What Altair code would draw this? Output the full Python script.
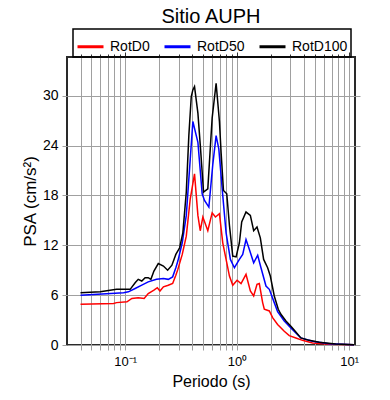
import altair as alt
import pandas as pd

# RotD0 (red)
t_d0 = [0.040, 0.079, 0.084, 0.104, 0.115, 0.131, 0.148, 0.161, 0.181, 0.194, 0.205, 0.220,
        0.243, 0.266, 0.284, 0.296, 0.324, 0.352, 0.382, 0.417, 0.447, 0.469, 0.495, 0.548,
        0.599, 0.641, 0.696, 0.745, 0.798, 0.855, 0.915, 1.000, 1.085, 1.202, 1.314, 1.407,
        1.507, 1.580, 1.692, 1.751, 1.941, 2.078, 2.301, 2.639, 2.924, 3.351, 3.842, 4.716,
        6.637, 11.08]
v_d0 = [4.9, 5.0, 5.1, 5.2, 5.6, 5.7, 5.6, 6.2, 6.6, 6.9, 6.5, 7.0,
        7.2, 7.4, 8.4, 9.1, 10.9, 13.1, 17.6, 20.6, 15.6, 13.75, 15.4, 13.75,
        15.9, 15.4, 15.8, 12.3, 10.3, 8.3, 7.2, 7.8, 7.4, 8.5, 6.5, 5.9,
        7.3, 7.4, 5.1, 4.3, 4.1, 3.3, 2.46, 1.65, 1.13, 0.85, 0.56, 0.24,
        0.08, 0.02]

# RotD50 (blue)
t_d50 = [0.040, 0.097, 0.107, 0.123, 0.141, 0.161, 0.191, 0.220, 0.243, 0.266, 0.284, 0.296,
         0.324, 0.352, 0.382, 0.403, 0.447, 0.488, 0.512, 0.560, 0.607, 0.650, 0.687, 0.745,
         0.798, 0.872, 0.947, 1.049, 1.123, 1.202, 1.288, 1.407, 1.528, 1.635, 1.812, 1.941,
         2.149, 2.301, 2.639, 3.025, 3.351, 3.713, 4.716, 6.637, 11.08]
v_d50 = [6.0, 6.3, 6.4, 6.8, 7.2, 7.6, 7.9, 8.0, 7.9, 8.2, 9.3, 10.1,
         12.3, 15.6, 22.4, 26.9, 24.4, 18.2, 17.4, 16.6, 21.7, 25.2, 23.6, 18.0,
         13.5, 10.3, 9.3, 10.3, 10.9, 12.7, 11.5, 9.9, 10.8, 9.3, 7.1, 6.7,
         5.1, 4.0, 2.9, 2.06, 1.45, 0.85, 0.44, 0.16, 0.04]

# RotD100 (black)
t_d100 = [0.040, 0.060, 0.084, 0.111, 0.123, 0.131, 0.141, 0.151, 0.161, 0.170, 0.181, 0.198,
          0.220, 0.240, 0.262, 0.284, 0.307, 0.328, 0.352, 0.371, 0.390, 0.403, 0.417, 0.447,
          0.472, 0.502, 0.548, 0.599, 0.650, 0.696, 0.720, 0.756, 0.809, 0.855, 0.915, 0.980,
          1.049, 1.100, 1.202, 1.314, 1.407, 1.507, 1.613, 1.727, 1.875, 1.981, 2.149, 2.333,
          2.464, 2.731, 3.025, 3.306, 3.713, 4.405, 5.407, 7.607, 11.08]
v_d100 = [6.3, 6.4, 6.7, 6.7, 7.5, 7.9, 7.7, 8.1, 8.1, 7.9, 8.9, 9.8,
          9.5, 9.0, 9.6, 10.9, 11.7, 13.5, 18.4, 25.2, 29.9, 30.7, 31.1, 27.9,
          23.6, 18.4, 18.8, 27.3, 31.5, 26.9, 23.2, 18.6, 18.2, 14.4, 10.7, 10.6,
          12.3, 14.8, 16.0, 15.6, 13.75, 14.2, 12.9, 10.3, 9.3, 8.3, 5.9, 4.3,
          3.7, 2.9, 2.26, 1.65, 0.85, 0.56, 0.32, 0.12, 0.04]

series_names = ["RotD0", "RotD50", "RotD100"]
series_colors = ["#ff0000", "#0000ff", "#000000"]

x_ticks = [0.04, 0.05, 0.06, 0.07, 0.08, 0.09, 0.1, 0.2, 0.3, 0.4, 0.5, 0.6, 0.7, 0.8, 0.9,
           1, 2, 3, 4, 5, 6, 7, 8, 9, 10]
y_ticks = [0, 6, 12, 18, 24, 30]

rows = []
for name, ts, vs in zip(series_names, [t_d0, t_d50, t_d100], [v_d0, v_d50, v_d100]):
    for t, v in zip(ts, vs):
        rows.append({"serie": name, "periodo": t, "psa": v})
df = pd.DataFrame(rows)

xscale = alt.Scale(type="log", domain=[0.0303, 11.3], nice=False)
yscale = alt.Scale(domain=[0, 34.66], nice=False, zero=False)

grid_col = "#a0a0a0"
label_expr = "datum.value == 0.1 ? '10⁻¹' : datum.value == 1 ? '10⁰' : datum.value == 10 ? '10¹' : ''"

lines = alt.Chart(df).mark_line(strokeWidth=1.5).encode(
    x=alt.X("periodo:Q", scale=xscale,
            axis=alt.Axis(values=x_ticks, labelExpr=label_expr, title="Periodo (s)",
                          grid=True, gridColor=grid_col, tickColor=grid_col, tickSize=5,
                          domain=False, labelFontSize=13, titleFontSize=16,
                          labelPadding=5, titlePadding=5, labelColor="#000",
                          titleColor="#000", titleFontWeight="normal", labelFlush=False,
                          labelOverlap=False)),
    y=alt.Y("psa:Q", scale=yscale,
            axis=alt.Axis(values=y_ticks, title="PSA (cm/s²)", grid=True, gridColor=grid_col,
                          tickColor=grid_col, tickSize=5, domain=False, labelFontSize=14,
                          titleFontSize=17, labelPadding=4, titlePadding=3, labelColor="#000",
                          titleColor="#000", titleFontWeight="normal", labelFlush=False)),
    color=alt.Color("serie:N",
                    scale=alt.Scale(domain=series_names, range=series_colors),
                    legend=alt.Legend(title=None, orient="none", direction="horizontal",
                                      legendX=6, legendY=-28, symbolType="stroke",
                                      symbolSize=676, symbolStrokeWidth=3,
                                      labelFontSize=14, labelColor="#000", labelOffset=5,
                                      columnPadding=8, padding=3, strokeColor="#000")),
    detail="serie:N",
)

frame_axes = alt.Chart(df).mark_line(opacity=0).encode(
    x=alt.X("periodo:Q", scale=xscale,
            axis=alt.Axis(orient="top", values=x_ticks, labels=False, title=None, grid=False,
                          domain=False, tickColor="#333",
                          tickSize={"condition": {"test": "datum.value == 0.1 || datum.value == 1 || datum.value == 10", "value": 5}, "value": 3})),
    y=alt.Y("psa:Q", scale=yscale,
            axis=alt.Axis(orient="right", values=y_ticks, labels=False, title=None, grid=False,
                          domain=False, tickColor=grid_col, tickSize=5)),
    detail="serie:N",
)

chart = alt.layer(lines, frame_axes).resolve_axis(x="independent", y="independent").properties(
    width=288, height=288,
    title=alt.Title("Sitio AUPH", fontSize=20, fontWeight="normal", anchor="middle",
                    frame="group", offset=4, dy=3, color="#000"),
    autosize=alt.AutoSizeParams(type="none"),
    padding={"left": 59, "top": 49, "right": 27, "bottom": 47},
).configure(font="Liberation Sans").configure_view(
    stroke="#2a2a2a", strokeWidth=2
).configure_legend(strokeWidth=1.5)

chart.save("out.html", embed_options={"renderer": "svg", "actions": False})
